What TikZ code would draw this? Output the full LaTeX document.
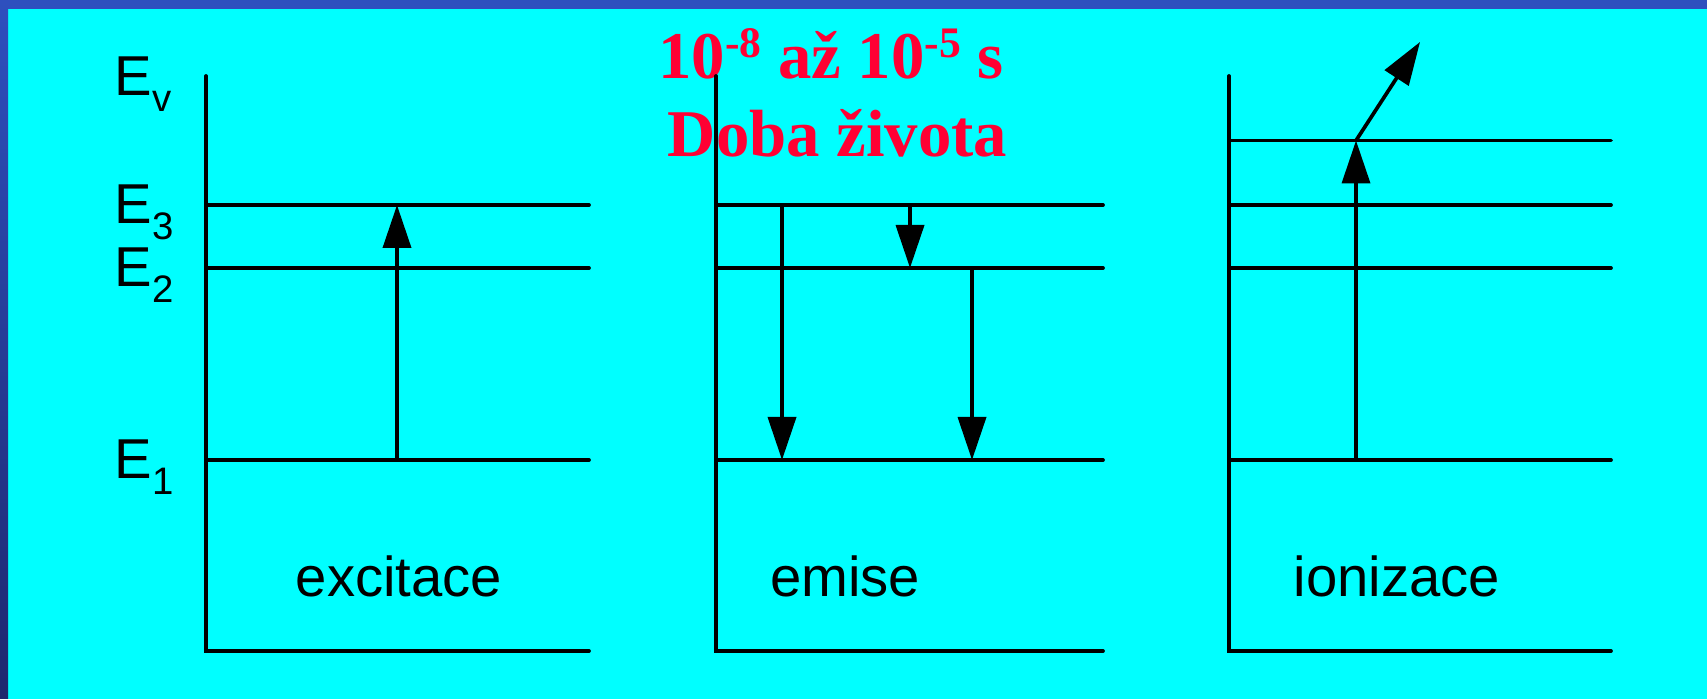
\documentclass[tikz,border=0pt]{standalone}
\usepackage{fontspec}
\setmainfont{Liberation Sans}
\newfontfamily\titlefont{Liberation Serif}
\usetikzlibrary{arrows.meta}
\definecolor{bgCyan}    {RGB}{0, 255, 255}
\definecolor{frameBlue} {RGB}{46,  80, 190}
\definecolor{frameDark} {RGB}{30,  40, 110}
\definecolor{titleRed}  {RGB}{255,  0,  51}
\newcommand{\lvsub}[1]{\raisebox{-4.3pt}{\fontsize{10.9}{12}\selectfont #1}}
\newcommand{\tsup}[1]{\raisebox{6pt}{\fontsize{12.4}{14}\selectfont #1}}

\begin{document}
\begin{tikzpicture}[
    level/.style={line width=1.05pt,line cap=round},
    jump/.style={line width=1.05pt,-{Triangle[length=0.43cm,width=0.28cm]}},
    elabel/.style={anchor=base west,inner sep=0pt,font=\fontsize{16}{19}\selectfont},
    plabel/.style={anchor=base,inner sep=0pt,font=\fontsize{16}{19}\selectfont},
    ttl/.style={anchor=base,inner sep=0pt,titleRed,
                font=\titlefont\bfseries\fontsize{19}{22}\selectfont}]
  \useasboundingbox (0,0) rectangle (17.07,6.99);

  % pozadi a ramecek
  \fill[bgCyan] (0,0) rectangle (17.07,6.99);
  \fill[frameBlue] (0,6.90) rectangle (17.07,6.99);
  \shade[top color=frameBlue,bottom color=frameDark] (0,0) rectangle (0.08,6.99);

  % titulek
  \node[ttl] (t1) at (8.31,6.20) {10\tsup{-8} až 10\tsup{-5} s};
  \node[ttl] (t2) at (8.375,5.42) {Doba života};

  % osy a hladiny
  \foreach \x/\xe in {2.06/5.89, 7.16/11.03, 12.29/16.11}{
    \draw[level] (\x,6.23) -- (\x,0.48) -- (\xe,0.48);
    \foreach \y in {4.94,4.31,2.39}
      \draw[level] (\x,\y) -- (\xe,\y);
  }
  \draw[level] (12.29,5.585) -- (16.11,5.585);

  % popisky hladin
  \node[elabel] (ev) at (1.14,6.03) {E\lvsub{v}};
  \node[elabel] (e3) at (1.14,4.75) {E\lvsub{3}};
  \node[elabel] (e2) at (1.14,4.12) {E\lvsub{2}};
  \node[elabel] (e1) at (1.14,2.20) {E\lvsub{1}};

  % excitace
  \coordinate (exLo) at (3.97,2.39);
  \coordinate (exHi) at (3.97,4.94);
  \draw[jump] (exLo) -- (exHi);
  \node[plabel] (exc) at (3.99,1.02) {excitace};

  % emise
  \coordinate (emAhi) at (7.82,4.94);
  \coordinate (emAlo) at (7.82,2.39);
  \coordinate (emBhi) at (9.10,4.94);
  \coordinate (emBlo) at (9.10,4.31);
  \coordinate (emChi) at (9.72,4.31);
  \coordinate (emClo) at (9.72,2.39);
  \draw[jump] (emAhi) -- (emAlo);
  \draw[jump] (emBhi) -- (emBlo);
  \draw[jump] (emChi) -- (emClo);
  \node[plabel] (emi) at (8.45,1.02) {emise};

  % ionizace
  \coordinate (ioLo) at (13.56,2.39);
  \coordinate (ioHi) at (13.56,5.585);
  \coordinate (ioOut) at (14.20,6.57);
  \draw[jump] (ioLo) -- (ioHi);
  \draw[jump] (ioHi) -- (ioOut);
  \node[plabel] (ion) at (13.97,1.02) {ionizace};
\end{tikzpicture}
\end{document}
